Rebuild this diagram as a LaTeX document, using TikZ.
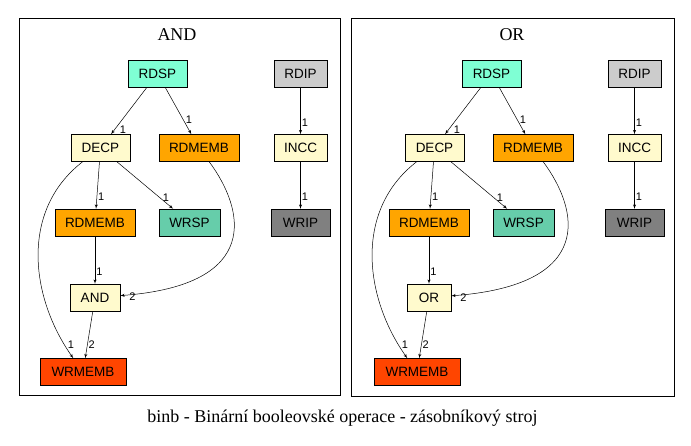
\documentclass[tikz,border=0pt]{standalone}
\usepackage{fontspec}
\setmainfont{Liberation Serif}
\newfontfamily\arialfont{Liberation Sans}
\usepackage{tikz}
\usetikzlibrary{arrows}

\definecolor{aquamarine}{HTML}{7FFFD4}
\definecolor{chiffon}{HTML}{FFFACD}
\definecolor{memorange}{HTML}{FFA500}
\definecolor{mediumaqua}{HTML}{66CDAA}
\definecolor{lightgr}{HTML}{CCCCCC}
\definecolor{darkgr}{HTML}{808080}
\definecolor{orangered}{HTML}{FF4500}

\begin{document}
\begin{tikzpicture}[x=1pt, y=-1pt]
\tikzset{op/.style = {shape=rectangle, draw, minimum height=27pt, inner sep=0pt, font=\arialfont\fontsize{13.5}{15}\selectfont}}
\tikzset{edge/.style = {->, > = latex', line width=0.5pt}}
\tikzset{num/.style = {font=\arialfont\fontsize{11}{13}\selectfont, inner sep=1pt}}
\tikzset{cluster/.style = {draw, line width=0.8pt}}
\useasboundingbox (0,0) rectangle (691,445);
% AND
\draw[cluster] (19,18) rectangle (340,395);
\node[font=\fontsize{18}{20}\selectfont](titleA) at (177,35) {AND};
\node[op, fill=aquamarine, minimum width=59pt](rdspA) at (157.5,73.5) {RDSP};
\node[op, fill=lightgr, minimum width=53pt](rdipA) at (300.5,73.5) {RDIP};
\node[op, fill=chiffon, minimum width=59pt](decpA) at (100.5,148) {DECP};
\node[op, fill=memorange, minimum width=80pt](rdmembA) at (199,148) {RDMEMB};
\node[op, fill=chiffon, minimum width=53pt](inccA) at (300.5,148) {INCC};
\node[op, fill=memorange, minimum width=80pt](loadA) at (95,222.5) {RDMEMB};
\node[op, fill=mediumaqua, minimum width=61pt](wrspA) at (189.5,222.5) {WRSP};
\node[op, fill=darkgr, minimum width=59pt](wripA) at (300.5,222.5) {WRIP};
\node[op, fill=chiffon, minimum width=50pt](andA) at (95,297.5) {AND};
\node[op, fill=orangered, minimum width=86pt](wrmembA) at (83,372) {WRMEMB};
\draw[edge] (rdspA) -- (decpA) node[num, pos=0.9, right=4pt] {1};
\draw[edge] (rdspA) -- (rdmembA) node[num, pos=0.7, right=1pt] {1};
\draw[edge] (decpA) -- (loadA) node[num, pos=0.75, right=0pt] {1};
\draw[edge] (decpA) -- (wrspA) node[num, pos=0.76, right=2pt] {1};
\draw[edge] (rdipA) -- (inccA) node[num, pos=0.75, right=0pt] {1};
\draw[edge] (inccA) -- (wripA) node[num, pos=0.75, right=0pt] {1};
\draw[edge] (loadA) -- (andA) node[num, pos=0.75, right=0pt] {1};
\draw[edge] (rdmembA) .. controls (245,210) and (262,285) .. (andA) node[num, at end, anchor=west, xshift=8pt, yshift=-1.5pt] {2};
\draw[edge] (decpA) .. controls (20,210) and (30,297) .. (wrmembA) node[num, pos=0.93, right=2pt] {1};
\draw[edge] (andA) -- (wrmembA) node[num, pos=0.7, right=0pt] {2};
% OR
\draw[cluster] (351,18) rectangle (674,396);
\begin{scope}[xshift=334pt]
\node[font=\fontsize{18}{20}\selectfont](titleB) at (178,35) {OR};
\node[op, fill=aquamarine, minimum width=59pt](rdspB) at (157.5,73.5) {RDSP};
\node[op, fill=lightgr, minimum width=53pt](rdipB) at (300.5,73.5) {RDIP};
\node[op, fill=chiffon, minimum width=59pt](decpB) at (100.5,148) {DECP};
\node[op, fill=memorange, minimum width=80pt](rdmembB) at (199,148) {RDMEMB};
\node[op, fill=chiffon, minimum width=53pt](inccB) at (300.5,148) {INCC};
\node[op, fill=memorange, minimum width=80pt](loadB) at (95,222.5) {RDMEMB};
\node[op, fill=mediumaqua, minimum width=61pt](wrspB) at (189.5,222.5) {WRSP};
\node[op, fill=darkgr, minimum width=59pt](wripB) at (300.5,222.5) {WRIP};
\node[op, fill=chiffon, minimum width=44pt](orB) at (95,297.5) {OR};
\node[op, fill=orangered, minimum width=86pt](wrmembB) at (83,372) {WRMEMB};
\draw[edge] (rdspB) -- (decpB) node[num, pos=0.9, right=4pt] {1};
\draw[edge] (rdspB) -- (rdmembB) node[num, pos=0.7, right=1pt] {1};
\draw[edge] (decpB) -- (loadB) node[num, pos=0.75, right=0pt] {1};
\draw[edge] (decpB) -- (wrspB) node[num, pos=0.76, right=2pt] {1};
\draw[edge] (rdipB) -- (inccB) node[num, pos=0.75, right=0pt] {1};
\draw[edge] (inccB) -- (wripB) node[num, pos=0.75, right=0pt] {1};
\draw[edge] (loadB) -- (orB) node[num, pos=0.75, right=0pt] {1};
\draw[edge] (rdmembB) .. controls (245,210) and (262,285) .. (orB) node[num, at end, anchor=west, xshift=8pt, yshift=-1.5pt] {2};
\draw[edge] (decpB) .. controls (20,210) and (30,297) .. (wrmembB) node[num, pos=0.93, right=2pt] {1};
\draw[edge] (orB) -- (wrmembB) node[num, pos=0.7, right=0pt] {2};
\end{scope}
\node[font=\fontsize{18}{21}\selectfont](caption) at (342.5,418) {binb - Binární booleovské operace - zásobníkový stroj};
\end{tikzpicture}
\end{document}
